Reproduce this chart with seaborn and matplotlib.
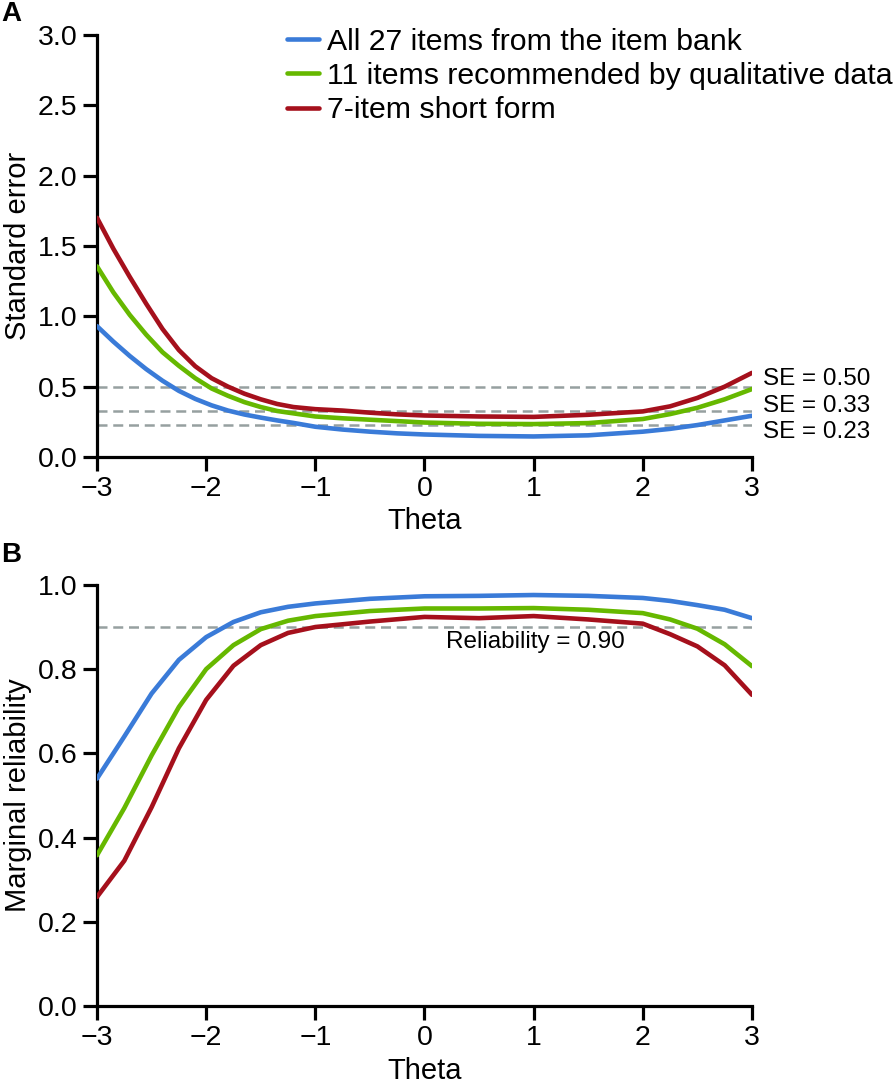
import numpy as np
import pandas as pd
import matplotlib
matplotlib.use('Agg')
import matplotlib.pyplot as plt
import seaborn as sns

# valeurs
# A: erreur standard
theta_se = [-3, -2.85, -2.7, -2.55, -2.4, -2.25, -2.1, -1.95, -1.8, -1.65, -1.5, -1.35, -1.2, -1.0,
            -0.75, -0.5, -0.25, 0, 0.5, 1, 1.5, 2, 2.25, 2.5, 2.75, 3]
se_all27 = [0.93, 0.82, 0.718, 0.625, 0.542, 0.47, 0.413, 0.367, 0.33, 0.302, 0.28, 0.26, 0.242, 0.215,
            0.195, 0.18, 0.168, 0.16, 0.15, 0.146, 0.154, 0.18, 0.20, 0.227, 0.26, 0.293]
se_11 = [1.355, 1.17, 1.01, 0.87, 0.745, 0.648, 0.56, 0.487, 0.435, 0.39, 0.355, 0.327, 0.31, 0.288,
         0.275, 0.265, 0.255, 0.245, 0.236, 0.234, 0.241, 0.27, 0.305, 0.35, 0.41, 0.483]
se_7 = [1.70, 1.48, 1.28, 1.09, 0.91, 0.76, 0.645, 0.56, 0.50, 0.45, 0.41, 0.377, 0.355, 0.34,
        0.33, 0.315, 0.303, 0.295, 0.288, 0.285, 0.30, 0.324, 0.36, 0.42, 0.50, 0.598]

# B: fiabilite marginale
theta_rel = [-3, -2.75, -2.5, -2.25, -2, -1.75, -1.5, -1.25, -1, -0.5, 0, 0.5, 1, 1.5, 2, 2.25, 2.5, 2.75, 3]
rel_all27 = [0.54, 0.64, 0.742, 0.822, 0.876, 0.912, 0.935, 0.948, 0.956, 0.967, 0.973, 0.974, 0.976, 0.974, 0.969, 0.962, 0.952, 0.941, 0.921]
rel_11 = [0.358, 0.47, 0.595, 0.71, 0.80, 0.857, 0.895, 0.915, 0.926, 0.938, 0.944, 0.944, 0.945, 0.941, 0.933, 0.918, 0.896, 0.859, 0.807]
rel_7 = [0.259, 0.345, 0.472, 0.612, 0.727, 0.808, 0.857, 0.886, 0.90, 0.913, 0.924, 0.921, 0.926, 0.918, 0.908, 0.883, 0.854, 0.809, 0.739]

forms = ["All 27 items from the item bank",
         "11 items recommended by qualitative data",
         "7-item short form"]
colores = ["#3a7bd8", "#66b800", "#a5101c"]

se_refs = [0.50, 0.33, 0.23]
se_ref_labels = ["SE = 0.50", "SE = 0.33", "SE = 0.23"]
rel_ref = 0.90
rel_ref_label = "Reliability = 0.90"

### tablas largas para seaborn
n = len(theta_se)
df_se = pd.DataFrame({"Theta": theta_se * 3,
                      "valor": se_all27 + se_11 + se_7,
                      "forma": [forms[0]] * n + [forms[1]] * n + [forms[2]] * n})
m = len(theta_rel)
df_rel = pd.DataFrame({"Theta": theta_rel * 3,
                       "valor": rel_all27 + rel_11 + rel_7,
                       "forma": [forms[0]] * m + [forms[1]] * m + [forms[2]] * m})

sns.set_theme(style="ticks")
plt.rcParams['font.family'] = ['Liberation Sans', 'DejaVu Sans']
plt.rcParams['text.color'] = 'black'
plt.rcParams['axes.labelcolor'] = 'black'

fig = plt.figure(figsize=(8.95, 10.86), dpi=100)
ax1 = fig.add_axes([0.1084, 0.5792, 0.7318, 0.3886])
ax2 = fig.add_axes([0.1084, 0.0737, 0.7318, 0.3877])

gris = "#96a0a0"
for ax in (ax1, ax2):
    for spine in ax.spines.values():
        spine.set_linewidth(2.3)
        spine.set_color("black")
    ax.tick_params(length=10, width=2.3, labelsize=20.5, pad=4, colors="black")
    ax.set_xlim(-3, 3)
    ax.set_xticks([-3, -2, -1, 0, 1, 2, 3])

#### Panel A
for y in se_refs:
    ax1.axhline(y, color=gris, lw=1.8, ls=(0, (4, 2.3)), zorder=1)
sns.lineplot(data=df_se, x="Theta", y="valor", hue="forma", hue_order=forms,
             palette=colores, lw=3.3, ax=ax1, zorder=3, solid_joinstyle="round")
ax1.set_ylim(0, 3)
ax1.set_yticks(np.arange(0, 3.01, 0.5))
ax1.set_yticklabels([f"{v:.1f}" for v in np.arange(0, 3.01, 0.5)])
ax1.set_xlabel("Theta", fontsize=21, labelpad=3)
ax1.set_ylabel("Standard error", fontsize=21, labelpad=4)
for y, lab in zip([0.555, 0.365, 0.18], se_ref_labels):
    ax1.text(3.1, y, lab, fontsize=17.5, va="center", ha="left", clip_on=False)

handles, labels = ax1.get_legend_handles_labels()
ax1.legend(handles, labels, loc="upper left", bbox_to_anchor=(287 / 895, 1 - 28 / 1086),
           bbox_transform=fig.transFigure, frameon=False, fontsize=21.8,
           handlelength=1.06, handletextpad=0.27, labelspacing=0.2, borderpad=0, borderaxespad=0)

#### Panel B
ax2.axhline(rel_ref, color=gris, lw=1.8, ls=(0, (4, 2.3)), zorder=1)
sns.lineplot(data=df_rel, x="Theta", y="valor", hue="forma", hue_order=forms,
             palette=colores, lw=3.3, ax=ax2, zorder=3, legend=False, solid_joinstyle="round")
ax2.set_ylim(0, 1)
ax2.set_yticks(np.arange(0, 1.01, 0.2))
ax2.set_yticklabels([f"{v:.1f}" for v in np.arange(0, 1.01, 0.2)])
ax2.set_xlabel("Theta", fontsize=21, labelpad=4)
ax2.set_ylabel("Marginal reliability", fontsize=21, labelpad=4)
ax2.text(0.2, 0.865, rel_ref_label, fontsize=17.5, va="center", ha="left")

sns.despine(fig=fig)

fig.text(0.001, 0.999, "A", fontsize=20, fontweight="bold", va="top", ha="left")
fig.text(0.001, 1 - 542 / 1086, "B", fontsize=20, fontweight="bold", va="top", ha="left")

fig.savefig("out.png", dpi=100)
